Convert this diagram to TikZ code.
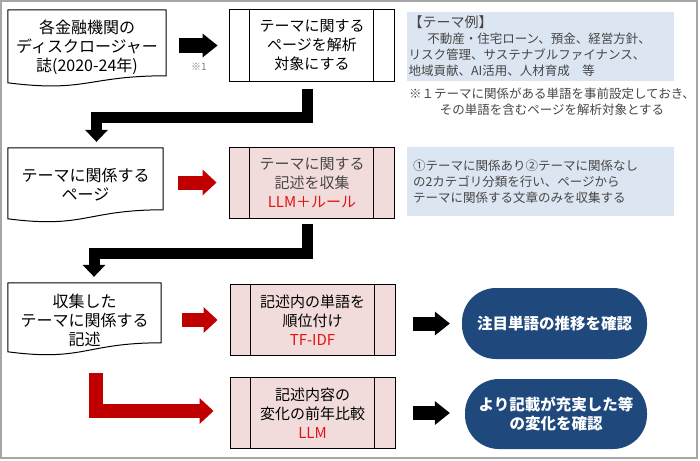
\documentclass[tikz,border=0pt]{standalone}
\usepackage{fontspec}
\setmainfont{Noto Sans CJK JP}
\usepackage{tikz}
\usetikzlibrary{arrows.meta}
\definecolor{framegray}{RGB}{166,166,166}
\definecolor{markgray}{RGB}{128,128,128}
\definecolor{procpink}{RGB}{242,220,219}
\definecolor{notebg}{RGB}{220,230,242}
\definecolor{arrowred}{RGB}{192,0,0}
\definecolor{textred}{RGB}{225,20,20}
\definecolor{pillblue}{RGB}{31,73,125}
\definecolor{notetext}{RGB}{70,70,70}

\begin{document}
\begin{tikzpicture}[x=1pt, y=-1pt,
    docnode/.style={minimum height=74pt, inner sep=0pt, align=center, font=\fontsize{16}{19}\selectfont},
    docline/.style={draw, line width=1pt, line join=round},
    procbox/.style={draw, line width=1pt, minimum width=165pt, minimum height=71pt, align=center, font=\fontsize{15}{19}\selectfont,
        path picture={
            \draw[line width=1pt] ([xshift=20pt]path picture bounding box.north west) -- ([xshift=20pt]path picture bounding box.south west);
            \draw[line width=1pt] ([xshift=-21pt]path picture bounding box.north east) -- ([xshift=-21pt]path picture bounding box.south east);}},
    notebox/.style={fill=notebg, text=notetext, align=left, font=\fontsize{12.5}{16}\selectfont},
    pill/.style={fill=pillblue, text=white, rounded corners=34pt, align=center, font=\bfseries\fontsize{15.5}{19}\selectfont},
    blkarrow/.style={line width=14pt, -{Triangle[length=15pt, width=24pt, line width=0pt]}},
    redarrow/.style={arrowred, line width=14pt, line join=miter, -{Triangle[length=14pt, width=26pt, line width=0pt]}},
    blkelbow/.style={line width=11pt, line join=miter, -{Triangle[length=12pt, width=23pt, line width=0pt]}}
    ]
        \useasboundingbox (0,0) rectangle (700,460);
        \draw[framegray, line width=1.5pt] (1,1) rectangle (697,458);

        % first row
        \node[docnode, minimum width=158pt] at (87,47) (src) {各金融機関の\\ディスクロージャー\\誌(2020-24年)};
        \node[procbox, fill=white] at (312,45.5) (pick) {テーマに関する\\ページを解析\\対象にする};
        \node[font=\fontsize{10}{12}\selectfont, text=markgray] at (199,67) (mark1) {※1};
        \node[notebox, text width=264pt, inner xsep=1.5pt, minimum height=69pt] at (540.5,46.5) (themes) {{\fontsize{14}{16}\selectfont 【テーマ例】}\\\hspace*{1.5em}不動産・住宅ローン、預金、経営方針、\\リスク管理、サステナブルファイナンス、\\地域貢献、AI活用、人材育成\hspace{1em}等};
        \node[text=notetext, align=center, font=\fontsize{12.5}{16}\selectfont] at (552,102) (footnote) {※１テーマに関係がある単語を事前設定しておき、\\その単語を含むページを解析対象とする};

        % second row
        \node[docnode, minimum width=155pt] at (85.5,185) (pages) {テーマに関係する\\ページ};
        \node[procbox, fill=procpink, text=notetext] at (312,182.5) (collect) {テーマに関する\\記述を収集\\\textcolor{textred}{LLM＋ルール}};
        \node[notebox, text width=255pt, inner xsep=6pt, minimum height=69pt] at (540.5,181.5) (catnote) {①テーマに関係あり②テーマに関係なし\\の2カテゴリ分類を行い、ページから\\テーマに関係する文章のみを収集する};

        % third and fourth row
        \node[docnode, minimum width=153pt] at (84.5,320) (gathered) {収集した\\テーマに関係する\\記述};
        \node[procbox, fill=procpink] at (312.5,320) (rank) {記述内の単語を\\順位付け\\\textcolor{textred}{TF-IDF}};
        \node[pill, minimum width=185pt, minimum height=71pt] at (554.5,323.5) (trend) {注目単語の推移を確認};
        \node[procbox, fill=procpink] at (312.5,413) (compare) {記述内容の\\変化の前年比較\\\textcolor{textred}{LLM}};
        \node[pill, minimum width=182pt, minimum height=70pt] at (556,414) (change) {より記載が充実した等\\の変化を確認};

        % document outlines
        \draw[docline] (src.north west) -- (src.north east) -- ([yshift=-66pt]src.north east) .. controls +(-79,0) and +(79,10) .. ([yshift=-73pt]src.north west) -- cycle;
        \draw[docline] (pages.north west) -- (pages.north east) -- ([yshift=-62pt]pages.north east) .. controls +(-77.5,0) and +(77.5,10) .. ([yshift=-71pt]pages.north west) -- cycle;
        \draw[docline] (gathered.north west) -- (gathered.north east) -- ([yshift=-60pt]gathered.north east) .. controls +(-76.5,0) and +(76.5,10) .. ([yshift=-69pt]gathered.north west) -- cycle;

        % arrows
        \draw[blkarrow, shorten <=13pt, shorten >=11.5pt] (src.east |- pick.west) -- (pick.west);
        \draw[blkelbow, shorten <=7pt, shorten >=6pt] ([xshift=-4.5pt]pick.south) |- ([xshift=11pt, yshift=30.5pt]pages.north) -- ([xshift=11pt]pages.north);
        \draw[redarrow, shorten <=15pt, shorten >=12.5pt] (pages.east |- collect.west) -- (collect.west);
        \draw[blkelbow, shorten <=5pt, shorten >=6pt] ([xshift=-5pt]collect.south) |- ([xshift=9.5pt, yshift=29.5pt]gathered.north) -- ([xshift=9.5pt]gathered.north);
        \draw[redarrow, shorten <=21pt, shorten >=12pt] (gathered.east |- rank.west) -- (rank.west);
        \draw[blkarrow, shorten <=17pt, shorten >=12pt] (rank.east |- trend.west) -- (trend.west);
        \draw[redarrow, shorten <=16pt, shorten >=16pt] ([xshift=11.5pt]gathered.south) |- ([yshift=2pt]compare.west);
        \draw[blkarrow, shorten <=17pt, shorten >=15pt] (compare.east) -- (compare.east -| change.west);
\end{tikzpicture}
\end{document}
